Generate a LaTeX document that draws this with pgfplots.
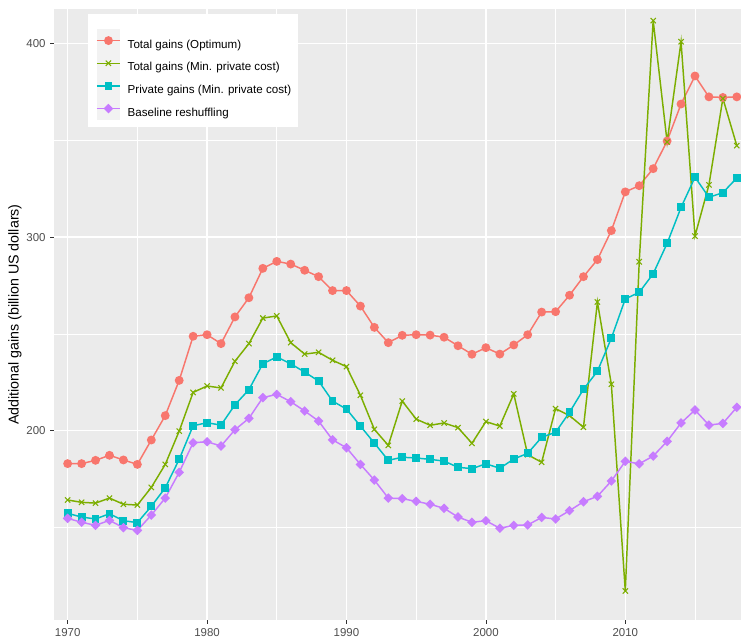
\documentclass[border=0pt]{standalone}
\usepackage{fontspec}
\setmainfont{Liberation Sans}
\usepackage{pgfplots}
\usepackage{pgfplotstable}
\pgfplotsset{compat=1.18}

% ggplot2 default hues
\definecolor{optred}{HTML}{F8766D}
\definecolor{mpcgreen}{HTML}{7CAE00}
\definecolor{privteal}{HTML}{00BFC4}
\definecolor{basepurple}{HTML}{C77CFF}
\definecolor{panelgrey}{HTML}{EBEBEB}
\definecolor{keygrey}{HTML}{F2F2F2}
\definecolor{ticktext}{HTML}{4D4D4D}
\definecolor{tickmark}{HTML}{333333}

% year, optimum, total (min. private cost), private (min. private cost), baseline
\pgfplotstableread{
year opt   mpc   priv  base
1970 183.0 164.2 157.3 154.7
1971 183.0 163.0 155.4 152.7
1972 184.7 162.6 154.4 151.1
1973 187.3 165.2 157.1 153.7
1974 184.9 162.0 153.5 149.9
1975 182.6 161.6 152.5 148.5
1976 195.2 170.7 160.9 156.4
1977 207.8 182.6 170.5 165.2
1978 226.0 199.8 185.2 178.5
1979 248.8 219.8 202.6 193.8
1980 249.6 223.1 204.1 194.3
1981 245.0 222.1 202.9 192.1
1982 258.8 235.9 213.4 200.5
1983 268.7 245.0 221.2 206.4
1984 283.9 258.2 234.6 217.1
1985 287.5 259.3 238.1 218.8
1986 286.1 245.5 234.6 215.0
1987 282.9 239.6 230.3 210.2
1988 279.6 240.5 225.7 205.0
1989 272.4 236.4 215.3 195.3
1990 272.4 233.1 211.2 191.2
1991 264.4 218.3 202.4 182.6
1992 253.4 200.7 193.6 174.5
1993 245.5 192.4 184.7 165.2
1994 249.3 215.3 186.3 164.9
1995 249.6 206.0 185.9 163.5
1996 249.4 202.8 185.2 162.0
1997 248.3 204.0 184.3 159.9
1998 243.9 201.6 181.1 155.4
1999 239.5 193.5 180.4 152.7
2000 242.9 204.7 182.9 153.5
2001 239.6 202.4 180.6 149.6
2002 244.3 219.0 185.4 151.1
2003 249.6 187.6 188.3 151.3
2004 261.3 183.7 196.6 155.2
2005 261.5 211.4 199.2 154.4
2006 270.0 207.8 209.5 158.7
2007 279.6 201.8 221.4 163.3
2008 288.4 266.5 230.7 166.1
2009 303.4 224.0 247.8 174.0
2010 323.4 117.2 268.1 184.2
2011 326.6 287.3 271.5 182.9
2012 335.4 411.9 281.1 186.9
2013 349.7 349.2 296.8 194.5
2014 368.8 401.0 315.4 204.0
2015 383.3 300.6 331.0 210.7
2016 372.5 327.0 320.6 202.9
2017 372.2 371.7 323.0 203.8
2018 372.5 347.3 330.6 212.1
}\gains

\begin{document}
\begin{tikzpicture}
\begin{axis}[
  name=ax,
  scale only axis,
  width=515.25pt, height=458.25pt,
  xmin=1969.02, xmax=2018.3,
  ymin=102.2, ymax=417.9,
  axis background/.style={fill=panelgrey},
  axis line style={draw=none},
  xtick={1970,1980,...,2010}, minor xtick={1975,1985,...,2015},
  ytick={200,300,400}, minor ytick={150,250,350},
  grid=both,
  major grid style={white, line width=1.07pt},
  minor grid style={white, line width=0.53pt},
  tick pos=left, tick align=outside,
  major tick length=2.75pt, minor tick length=0pt,
  tick style={tickmark, line width=0.53pt},
  tick label style={font=\fontsize{8.6}{10}\selectfont, text=ticktext},
  /pgf/number format/1000 sep={},
  /pgf/number format/assume math mode=true,
  ylabel={Additional gains (billion US dollars)},
  ylabel style={font=\fontsize{10.7}{12}\selectfont,
    at={(axis description cs:-0.0568,0.5)}, anchor=center},
  legend cell align=left,
  legend style={at={(0.0611,0.9673)}, anchor=north west,
    draw=none, fill=none, inner sep=0pt, row sep=0pt, column sep=5.25pt,
    nodes={inner sep=0pt},
    font=\fontsize{8.7}{10}\selectfont},
  legend image code/.code={%
    \begin{scope}[yshift=3.2pt]
    \fill[keygrey, draw=none] (0pt,-8.5pt) rectangle (17.25pt,8.5pt);
    \draw[mark repeat=2, mark phase=2]
      plot coordinates {(0pt,0pt) (8.625pt,0pt) (17.25pt,0pt)};
    \end{scope}},
]
% legend box (ggplot draws it over the grid)
\fill[white] (rel axis cs:0.0495,0.8074) rectangle (rel axis cs:0.3547,0.9918);

\addplot[optred, line width=1.1pt, mark=*, mark size=2.75pt,
  mark options={fill=optred, draw=none}]
  table[x=year, y=opt] {\gains};
\addlegendentry{Total gains (Optimum)}
\addplot[mpcgreen, line width=1.1pt, mark=x, mark size=2.8pt,
  mark options={line width=0.8pt}]
  table[x=year, y=mpc] {\gains};
\addlegendentry{Total gains (Min. private cost)}
\addplot[privteal, line width=1.1pt, mark=square*, mark size=2.4pt,
  mark options={fill=privteal, draw=none}]
  table[x=year, y=priv] {\gains};
\addlegendentry{Private gains (Min. private cost)}
\addplot[basepurple, line width=1.1pt, mark=square*, mark size=2.0pt,
  mark options={fill=basepurple, draw=none, rotate=45}]
  table[x=year, y=base] {\gains};
\addlegendentry{Baseline reshuffling}
\end{axis}
% crop to the reference frame
\pgfresetboundingbox
\path[use as bounding box]
  ([shift={(-40.5pt,-12.75pt)}]ax.south west)
  rectangle ([shift={(0pt,6.75pt)}]ax.north east);
\end{tikzpicture}
\end{document}
